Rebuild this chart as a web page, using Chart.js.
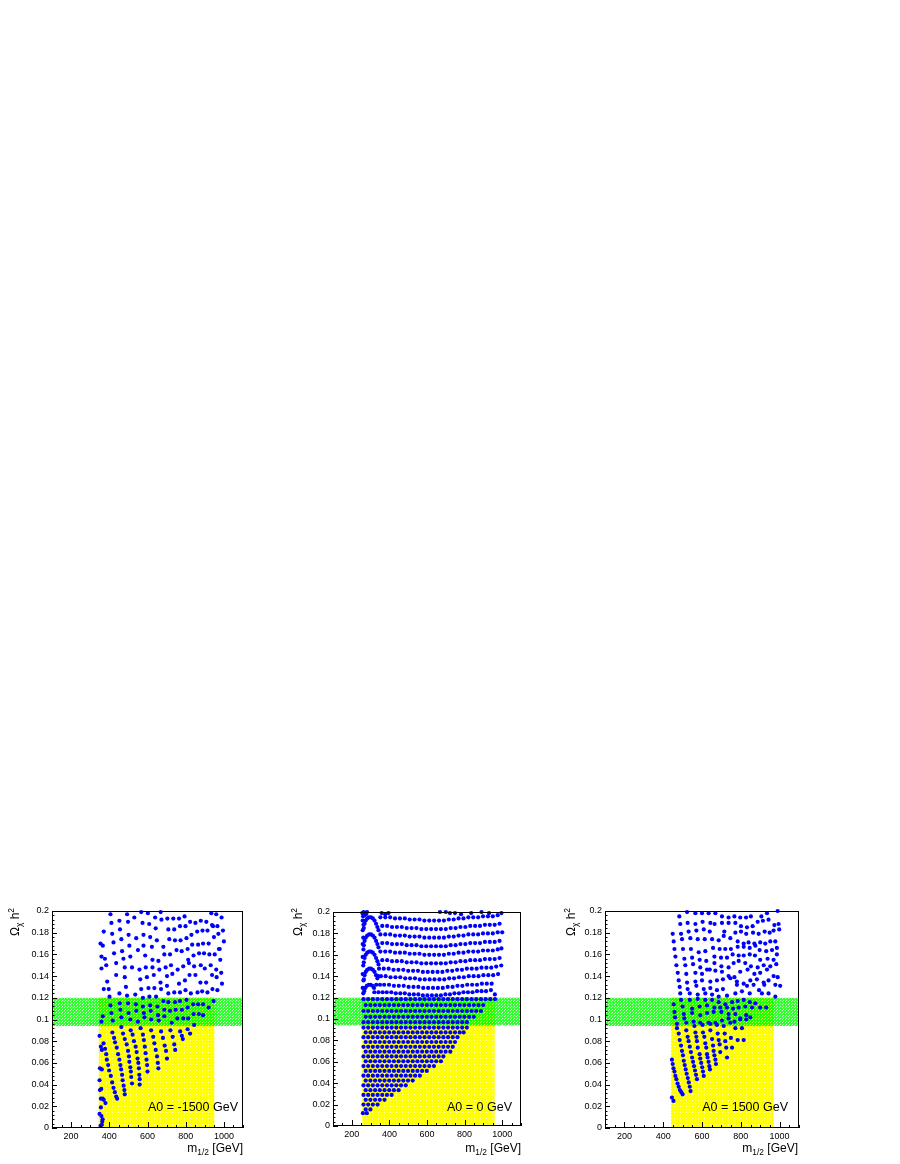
<!DOCTYPE html>
<html>
<head>
<meta charset="utf-8">
<script src="https://cdn.jsdelivr.net/npm/chart.js@4.4.1/dist/chart.umd.min.js"></script>
<style>
  body { margin: 0; width: 900px; height: 1164px; position: relative; background: #fff; overflow: hidden;
         font-family: "Liberation Sans", Arial, Helvetica, sans-serif; }
  .pad { position: absolute; top: 895px; height: 269px; }
  .pad canvas { display: block; }
  .lbl { position: absolute; font-size: 12px; line-height: 14px; white-space: nowrap; color: #000; }
  .lbl sub, .lbl sup { font-size: 70%; line-height: 0; }
  .ytitle { transform-origin: 0 0; transform: rotate(-90deg); width: 60px; text-align: right; top: 968px; }
  .xtitle { width: 120px; text-align: right; top: 1141px; }
  .note { font-size: 12.5px; width: 130px; text-align: right; top: 1100px; }
</style>
</head>
<body>

<div class="pad" style="left:0;width:290px"><canvas id="c1" width="290" height="269"></canvas></div>
<div class="pad" style="left:290px;width:290px"><canvas id="c2" width="290" height="269"></canvas></div>
<div class="pad" style="left:580px;width:320px"><canvas id="c3" width="320" height="269"></canvas></div>

<div class="lbl ytitle" style="left:8px">&Omega;<sub>&chi;</sub> h<sup>2</sup></div>
<div class="lbl ytitle" style="left:291px">&Omega;<sub>&chi;</sub> h<sup>2</sup></div>
<div class="lbl ytitle" style="left:564px">&Omega;<sub>&chi;</sub> h<sup>2</sup></div>

<div class="lbl xtitle" style="left:123px">m<sub>1/2</sub> [GeV]</div>
<div class="lbl xtitle" style="left:401px">m<sub>1/2</sub> [GeV]</div>
<div class="lbl xtitle" style="left:678px">m<sub>1/2</sub> [GeV]</div>

<div class="lbl note" style="left:108px">A0 = -1500 GeV</div>
<div class="lbl note" style="left:382px">A0 = 0 GeV</div>
<div class="lbl note" style="left:658px">A0 = 1500 GeV</div>

<script>
// axes
const xTicks = [200, 400, 600, 800, 1000];
const yTicks = [0, 0.02, 0.04, 0.06, 0.08, 0.1, 0.12, 0.14, 0.16, 0.18, 0.2];
const xRange = [100, 1100];
const yRange = [0, 0.2];

// bands
const greenBand = [0.094, 0.12];
const yellowTop = 0.12;
const yellow1 = [345, 950];
const yellow2 = [256, 960];
const yellow3 = [440, 970];

// ---- A0 = -1500 ----
const p1Upper = [
  [406,.197],[493,.197],[567,.199],[602,.198],[669,.199],[934,.198],[960,.197],[988,.194],
  [411,.189],[453,.191],[498,.190],[531,.194],[574,.189],[609,.188],[640,.194],[673,.192],[704,.193],[735,.193],[765,.193],[794,.195],[823,.190],[851,.189],[879,.191],[908,.190],[938,.187],[966,.186],
  [371,.181],[415,.179],[456,.183],[501,.178],[541,.175],[579,.178],[614,.176],[643,.184],[709,.183],[740,.183],[770,.186],[799,.186],[830,.178],[860,.181],[888,.182],[914,.182],[943,.186],[948,.176],[971,.179],[995,.182],
  [354,.170],[366,.168],[422,.171],[463,.174],[505,.168],[579,.168],[649,.173],[683,.167],[714,.174],[744,.173],[773,.173],[804,.175],[834,.169],[865,.169],[891,.170],[920,.170],[978,.165],[1000,.172],
  [359,.158],[377,.156],[425,.161],[467,.163],[474,.156],[510,.158],[550,.164],[588,.159],[623,.167],[626,.155],[657,.154],[688,.160],[718,.160],[752,.164],[779,.163],[810,.165],[813,.155],[841,.159],[870,.161],[896,.161],[924,.160],[952,.160],[974,.165],[981,.155],
  [359,.147],[384,.150],[436,.152],[481,.148],[519,.148],[558,.146],[591,.148],[626,.148],[662,.146],[695,.148],[723,.150],[758,.146],[787,.149],[817,.152],[844,.149],[879,.150],[900,.147],[931,.150],[960,.146],[986,.143],
  [389,.135],[436,.141],[481,.139],[562,.137],[597,.139],[633,.141],[668,.134],[702,.140],[730,.142],[765,.133],[796,.136],[820,.141],[851,.141],[877,.134],[907,.134],[938,.141],[962,.139],[990,.133]
];
const p1Middle = [
  [371,.128],[397,.128],[487,.130],[567,.128],[605,.129],[636,.129],[671,.128],[702,.131],[709,.124],[740,.125],[770,.125],[799,.127],[827,.124],[862,.125],[886,.126],[914,.125],[940,.128],[966,.127],
  [401,.121],[453,.124],[493,.122],[536,.123],[576,.120],[610,.121],[645,.121],
  [406,.113],[455,.115],[498,.115],[539,.114],[576,.112],[614,.113],[652,.112],[683,.117],[709,.116],[744,.116],[770,.117],[804,.118],[839,.114],[865,.114],[891,.114],[920,.111],[946,.117],
  [366,.103],[411,.106],[458,.109],[501,.106],[541,.108],[581,.106],[617,.108],[655,.104],[688,.109],[718,.108],[747,.109],[780,.109],[810,.111],[841,.105],[869,.105],[891,.104],
  [359,.098],[418,.099],[463,.102],[510,.100],[550,.098],[584,.102],[619,.100],[659,.099],[688,.103],[727,.097],[756,.101],[787,.101],[813,.101],[844,.095]
];
const p1Lower = [
  [349,.085],[356,.075],[361,.072],[351,.055],[361,.054],[349,.044],[358,.036],[351,.035],[356,.027],[365,.027],[371,.026],[380,.023],
  [356,.019],[349,.013],[359,.011],[365,.008],[363,.006],[361,.003],[354,.002],
  [370,.078],[378,.073],[384,.068],[387,.063],[394,.058],[399,.053],[408,.048],[415,.042],[422,.037],[429,.033],[436,.029],[441,.027],
  [416,.088],[425,.083],[430,.079],[439,.074],[446,.068],[453,.063],[458,.058],[462,.054],[467,.049],[470,.044],[475,.039],[479,.035],[481,.031],
  [463,.093],[472,.087],[481,.082],[491,.077],[498,.071],[503,.066],[505,.061],[510,.056],[513,.052],[515,.047],[519,.041],
  [512,.090],[522,.086],[529,.080],[538,.075],[543,.070],[548,.064],[552,.060],[555,.055],[557,.049],[559,.045],[559,.040],
  [564,.092],[576,.086],[581,.081],[586,.075],[590,.069],[595,.063],[598,.058],[600,.052],
  [619,.090],[630,.084],[636,.078],[643,.072],[650,.066],[654,.060],[657,.055],
  [671,.089],[681,.083],[690,.076],[697,.071],[702,.064],
  [720,.090],[732,.084],[740,.077],[745,.072],
  [771,.089],[780,.085],[785,.082],
  [810,.091],[823,.087]
];

// ---- A0 = 0 ----
const p2Top = [
  [359,.199],[378,.198],[395,.199],[669,.200],[700,.200],[722,.199],[749,.199],[781,.198],[835,.199],[890,.200],[930,.199],[996,.199]
];
const p2LeftEdge = [
  [256,.199],[260,.196],[258,.192],[263,.200],[267,.197],[271,.199],[276,.198],[281,.200],[262,.188],[258,.183],
  [261,.176],[258,.170],[262,.165],[258,.158],[261,.150],[258,.142],[262,.136],[258,.129],[261,.124]
];
const p2Arches = [
  [264,.185],[268,.189],[274,.192],[282,.194],[292,.195],[302,.195],[312,.194],[321,.192],[329,.189],[336,.186],[342,.183],
  [264,.169],[268,.173],[274,.176],[282,.178],[292,.179],[302,.179],[312,.178],[321,.176],[329,.173],[336,.170],[342,.167],
  [264,.153],[268,.157],[274,.160],[282,.162],[292,.163],[302,.163],[312,.162],[321,.160],[329,.157],[336,.154],[342,.151],
  [264,.137],[268,.141],[274,.144],[282,.146],[292,.147],[302,.147],[312,.146],[321,.144],[329,.141],[336,.138],
  [266,.126],[272,.129],[280,.131],[290,.132],[300,.132],[310,.131],[318,.129]
];
const p2Upper = [
  [352,.195],[378,.195],[404,.195],[430,.194],[456,.194],[482,.194],[508,.193],[534,.193],[560,.193],[586,.192],[612,.192],[638,.192],[664,.192],[690,.192],[716,.193],[742,.193],[768,.194],[794,.194],[820,.195],[846,.195],[872,.195],[898,.196],[924,.196],[950,.196],[976,.197],
  [362,.187],[388,.187],[414,.186],[440,.186],[466,.186],[492,.185],[518,.185],[544,.185],[570,.184],[596,.184],[622,.184],[648,.184],[674,.184],[700,.184],[726,.185],[752,.185],[778,.186],[804,.186],[830,.187],[856,.187],[882,.187],[908,.188],[934,.188],[960,.188],[986,.189],
  [352,.179],[378,.179],[404,.179],[430,.178],[456,.178],[482,.178],[508,.177],[534,.177],[560,.177],[586,.176],[612,.176],[638,.176],[664,.176],[690,.176],[716,.177],[742,.177],[768,.178],[794,.178],[820,.179],[846,.179],[872,.179],[898,.180],[924,.180],[950,.180],[976,.181],[1000,.181],
  [362,.171],[388,.171],[414,.170],[440,.170],[466,.170],[492,.169],[518,.169],[544,.169],[570,.168],[596,.168],[622,.168],[648,.168],[674,.168],[700,.168],[726,.169],[752,.169],[778,.170],[804,.170],[830,.171],[856,.171],[882,.171],[908,.172],[934,.172],[960,.172],[986,.173],
  [352,.163],[378,.163],[404,.163],[430,.162],[456,.162],[482,.162],[508,.161],[534,.161],[560,.161],[586,.160],[612,.160],[638,.160],[664,.160],[690,.160],[716,.161],[742,.161],[768,.162],[794,.162],[820,.163],[846,.163],[872,.163],[898,.164],[924,.164],[950,.164],[976,.165],[996,.166],
  [362,.155],[388,.155],[414,.154],[440,.154],[466,.154],[492,.153],[518,.153],[544,.153],[570,.152],[596,.152],[622,.152],[648,.152],[674,.152],[700,.152],[726,.153],[752,.153],[778,.154],[804,.154],[830,.155],[856,.155],[882,.155],[908,.156],[934,.156],[960,.156],[986,.157],
  [345,.147],[370,.147],[396,.147],[422,.146],[448,.146],[474,.146],[500,.145],[526,.145],[552,.145],[578,.144],[604,.144],[630,.144],[656,.144],[682,.144],[708,.145],[734,.145],[760,.146],[786,.146],[812,.147],[838,.147],[864,.147],[890,.148],[916,.148],[942,.148],[968,.149],[995,.150],
  [340,.140],[355,.140],[380,.140],[406,.139],[432,.139],[458,.139],[484,.138],[510,.138],[536,.138],[562,.137],[588,.137],[614,.137],[640,.137],[666,.137],[692,.137],[718,.138],[744,.138],[770,.139],[796,.139],[822,.140],[848,.140],[874,.140],[900,.141],[926,.141],[952,.141],[978,.142],
  [330,.132],[350,.132],[372,.132],[398,.132],[424,.131],[450,.131],[476,.131],[502,.130],[528,.130],[554,.130],[580,.129],[606,.129],[632,.129],[658,.129],[684,.129],[710,.130],[736,.130],[762,.131],[788,.131],[814,.132],[840,.132],[866,.132],[892,.133],[918,.133],[944,.133],
  [320,.125],[342,.125],[364,.125],[386,.125],[410,.125],[434,.124],[458,.124],[482,.124],[506,.123],[530,.123],[554,.123],[578,.122],[602,.122],[626,.122],[650,.122],[674,.122],[698,.123],[722,.123],[746,.124],[770,.124],[794,.125],[818,.125],[842,.125],[866,.126],[890,.126],[914,.126],[940,.127],[961,.123]
];
// rows of constant height: [omega, m1/2 values]
const p2BandRows = [
  [0.1185, [262,287,312,337,362,387,412,437,462,487,512,537,562,587,612,637,662,687,712,737,762,787,812,837,862,887,912,937,962]],
  [0.113,  [274,299,324,349,374,399,424,449,474,499,524,549,574,599,624,649,674,699,724,749,774,799,824,849,874,899]],
  [0.1075, [262,287,312,337,362,387,412,437,462,487,512,537,562,587,612,637,662,687,712,737,762,787,812,837,862,887]],
  [0.102,  [274,299,324,349,374,399,424,449,474,499,524,549,574,599,624,649,674,699,724,749,774,799,824,849]],
  [0.097,  [262,287,312,337,362,387,412,437,462,487,512,537,562,587,612,637,662,687,712,737,762,787,812]]
];
const p2LowRows = [
  [0.092,  [262,287,312,337,362,387,412,437,462,487,512,537,562,587,612,637,662,687,712,737,762,787,812]],
  [0.0875, [274,299,324,349,374,399,424,449,474,499,524,549,574,599,624,649,674,699,724,749,774,795]],
  [0.083,  [262,287,312,337,362,387,412,437,462,487,512,537,562,587,612,637,662,687,712,737,762]],
  [0.0785, [274,299,324,349,374,399,424,449,474,499,524,549,574,599,624,649,674,699,724,749]],
  [0.074,  [262,287,312,337,362,387,412,437,462,487,512,537,562,587,612,637,662,687,712,737]],
  [0.0695, [274,299,324,349,374,399,424,449,474,499,524,549,574,599,624,649,674,699,724]],
  [0.065,  [262,287,312,337,362,387,412,437,462,487,512,537,562,587,612,637,662,687]],
  [0.0605, [274,299,324,349,374,399,424,449,474,499,524,549,574,599,624,649,674]],
  [0.056,  [262,287,312,337,362,387,412,437,462,487,512,537,562,587,612,637]],
  [0.0515, [274,299,324,349,374,399,424,449,474,499,524,549,574,599]],
  [0.047,  [262,287,312,337,362,387,412,437,462,487,512,537,562]],
  [0.0425, [274,299,324,349,374,399,424,449,474,499,524]],
  [0.038,  [262,287,312,337,362,387,412,437,462,487]],
  [0.0335, [274,299,324,349,374,399,424,449]],
  [0.029,  [262,287,312,337,362,387,412]],
  [0.0245, [274,299,324,349,374]],
  [0.020,  [262,287,312,337]],
  [0.0155, [274,299]],
  [0.012,  [259,280]]
];

// ---- A0 = 1500 ----
const p3Upper = [
  [483,.195],[523,.199],[566,.198],[600,.198],[634,.198],[669,.198],[703,.195],[737,.194],[767,.195],[797,.194],[827,.194],[852,.195],[906,.195],[935,.198],[990,.200],
  [488,.188],[526,.189],[566,.188],[603,.190],[643,.189],[665,.188],[703,.189],[737,.189],[772,.189],[801,.186],[832,.185],[861,.186],[887,.190],[914,.191],[943,.192],[973,.187],[995,.188],
  [449,.179],[492,.179],[531,.181],[571,.182],[609,.183],[640,.181],[712,.177],[715,.181],[746,.175],[772,.180],[801,.181],[828,.179],[863,.180],[892,.179],[923,.181],[949,.180],[969,.182],[998,.183],
  [454,.172],[497,.174],[540,.175],[578,.174],[614,.174],[652,.174],[686,.173],[784,.172],[815,.170],[840,.171],[870,.170],[900,.171],[926,.170],[952,.172],[978,.172],
  [458,.165],[502,.165],[543,.165],[583,.162],[617,.163],[657,.166],[691,.165],[720,.165],[749,.165],[784,.167],[815,.167],[846,.166],[875,.168],[897,.164],[931,.163],[961,.164],[986,.166],
  [463,.158],[509,.156],[549,.157],[588,.155],[622,.154],[664,.158],[698,.157],[729,.157],[758,.160],[789,.159],[815,.159],[846,.160],[873,.159],[900,.155],[938,.156],[969,.155],[986,.160],
  [468,.150],[514,.150],[554,.151],[591,.148],[626,.146],[664,.152],[700,.149],[737,.148],[763,.152],[789,.154],[823,.152],[852,.149],[887,.148],[918,.150],[952,.149],[983,.151],
  [475,.143],[519,.142],[566,.143],[600,.142],[640,.146],[669,.145],[703,.144],[737,.140],[767,.139],[797,.144],[835,.146],[870,.142],[900,.143],[935,.146],[969,.140],[990,.139],
  [480,.136],[523,.134],[566,.135],[600,.136],[643,.135],[677,.136],[708,.137],[746,.138],[780,.135],[815,.133],[849,.136],[883,.137],[918,.134],[943,.136],[978,.132],[1003,.131]
];
const p3Middle = [
  [485,.130],[526,.128],[571,.131],[609,.128],[643,.129],[677,.127],[708,.128],[780,.132],[832,.131],[866,.132],[894,.127],[921,.132],[943,.124],[978,.121],[909,.124],[846,.124],[806,.126],[772,.124],
  [488,.124],[537,.124],[578,.123],[617,.124],[652,.123],[686,.121],[729,.122],
  [492,.118],[537,.118],[578,.119],[617,.118],[652,.118],[686,.116],[720,.114],[755,.116],[784,.117],[815,.118],[846,.116],[875,.115],[900,.111],[931,.111],
  [454,.114],[500,.112],[549,.110],[588,.112],[626,.113],[664,.111],[694,.111],[729,.111],[760,.110],[789,.111],[823,.112],[858,.111],
  [458,.107],[506,.105],[549,.106],[591,.104],[626,.106],[660,.107],[700,.107],[737,.105],[772,.105],[797,.101],[828,.104],
  [461,.102],[509,.101],[557,.098],[591,.097],[634,.097],[669,.097],[703,.099],[737,.101],[767,.098],[797,.100],[828,.100],[849,.102],
  [471,.096],[519,.097],[561,.094],[603,.095],[643,.096],[677,.095],[712,.094],[746,.097],[772,.092],[806,.092],
  [471,.092],[519,.090],[566,.088],[605,.088],[643,.090],[681,.087],[717,.087],[749,.083],[784,.081],[815,.081],
  [480,.087],[526,.084],[571,.084],[612,.084],[652,.082],[686,.081],[720,.080],[755,.074],
  [485,.081],[531,.080],[574,.080],[617,.078],[657,.076],[691,.077],[725,.074],
  [492,.076],[537,.075],[578,.074],[622,.074],[660,.071],[694,.070],[729,.065],
  [497,.071],[543,.070],[588,.068],[626,.068],[664,.067],
  [502,.067],[549,.065],[591,.064],[629,.065]
];
const p3Lower = [
  [445,.063],[449,.059],[453,.055],[458,.052],[463,.048],[468,.045],[474,.041],[480,.038],[486,.035],[494,.033],[500,.031],
  [445,.028],[453,.025],
  [506,.062],[511,.058],[516,.054],[521,.050],[527,.046],[532,.042],[537,.038],[541,.034],
  [554,.061],[559,.057],[564,.053],[569,.049],[574,.045],
  [596,.060],[601,.056],[605,.052],[609,.048],
  [634,.061],[638,.057],[641,.054],
  [669,.063],[672,.059]
];

const FONT = '"Liberation Sans", Arial, Helvetica, sans-serif';

// ROOT-like stippled fills
function makePattern(size, base, spots, spotColor) {
  const c = document.createElement('canvas');
  c.width = size; c.height = size;
  const g = c.getContext('2d');
  g.fillStyle = base; g.fillRect(0, 0, size, size);
  g.fillStyle = spotColor;
  spots.forEach(s => g.fillRect(s[0], s[1], 1, 1));
  return c;
}

function rowsToPoints(rows) {
  const out = [];
  rows.forEach(r => r[1].forEach(x => out.push([x, r[0]])));
  return out;
}

const rootStyle = {
  id: 'rootStyle',
  beforeDatasetsDraw(chart, args, opts) {
    const { ctx, chartArea: a, scales: { x, y } } = chart;
    const yellowFill = ctx.createPattern(makePattern(3, '#ffff00', [[1, 1]], '#ffffb0'), 'repeat');
    const greenFill = ctx.createPattern(makePattern(3, '#33ff33', [[1, 1], [2, 0]], '#c8ffc8'), 'repeat');
    const greenOnYellow = ctx.createPattern(makePattern(3, '#22ff00', [[1, 1], [2, 0]], '#c8ff40'), 'repeat');
    ctx.save();
    ctx.beginPath();
    ctx.rect(a.left, a.top, a.right - a.left, a.bottom - a.top);
    ctx.clip();
    const xl = x.getPixelForValue(opts.yellow[0]);
    const xr = x.getPixelForValue(opts.yellow[1]);
    const yt = y.getPixelForValue(yellowTop);
    const yb = y.getPixelForValue(0);
    ctx.fillStyle = yellowFill;
    ctx.fillRect(xl, yt, xr - xl, yb - yt);
    const g0 = y.getPixelForValue(greenBand[1]);
    const g1 = y.getPixelForValue(greenBand[0]);
    ctx.fillStyle = greenFill;
    ctx.fillRect(a.left, g0, a.right - a.left, g1 - g0);
    ctx.fillStyle = greenOnYellow;
    ctx.fillRect(xl, g0, xr - xl, g1 - g0);
    ctx.restore();
  },
  afterDatasetsDraw(chart) {
    const { ctx, chartArea: a, scales: { x, y } } = chart;
    ctx.save();
    ctx.strokeStyle = '#000';
    ctx.lineWidth = 1;
    ctx.beginPath();
    // y ticks: major every 0.02, minor every 0.004
    for (let i = 0; i <= 50; i++) {
      const py = Math.round(y.getPixelForValue(i * 0.004)) + 0.5;
      const len = (i % 5 === 0) ? 5 : 2.5;
      ctx.moveTo(a.left, py); ctx.lineTo(a.left + len, py);
    }
    // x ticks: major every 200, minor every 50
    for (let v = 100; v <= 1100; v += 50) {
      const px = Math.round(x.getPixelForValue(v)) + 0.5;
      const len = (v % 200 === 0) ? 6 : 3;
      ctx.moveTo(px, a.bottom); ctx.lineTo(px, a.bottom - len);
    }
    ctx.stroke();
    ctx.strokeRect(Math.round(a.left) + 0.5, Math.round(a.top) + 0.5,
                   Math.round(a.right - a.left) - 1, Math.round(a.bottom - a.top) - 1);
    ctx.restore();
  }
};

function makePanel(id, pts, yellow, box) {
  return new Chart(document.getElementById(id), {
    type: 'scatter',
    data: {
      datasets: [{
        data: pts.map(p => ({ x: p[0], y: p[1] })),
        pointRadius: 2.1,
        pointHoverRadius: 2.1,
        pointBackgroundColor: '#0000ff',
        pointBorderWidth: 0,
        clip: 3
      }]
    },
    options: {
      responsive: false,
      animation: false,
      events: [],
      layout: { padding: { top: box.top, right: box.right, left: 0, bottom: 0 } },
      plugins: { legend: { display: false }, tooltip: { enabled: false }, rootStyle: { yellow: yellow } },
      scales: {
        x: {
          type: 'linear', min: xRange[0], max: xRange[1],
          grid: { display: false, drawTicks: false }, border: { display: false },
          afterBuildTicks: s => { s.ticks = xTicks.map(v => ({ value: v })); },
          afterFit: s => { s.height = box.xh; },
          ticks: { color: '#000', font: { family: FONT, size: 9 }, padding: 3, maxRotation: 0, autoSkip: false,
                   callback: v => String(v) }
        },
        y: {
          type: 'linear', min: yRange[0], max: yRange[1],
          grid: { display: false, drawTicks: false }, border: { display: false },
          afterBuildTicks: s => { s.ticks = yTicks.map(v => ({ value: v })); },
          afterFit: s => { s.width = box.yw; },
          ticks: { color: '#000', font: { family: FONT, size: 9 }, padding: 3, autoSkip: false,
                   callback: v => String(+v.toFixed(2)) }
        }
      }
    },
    plugins: [rootStyle]
  });
}

makePanel('c1', p1Upper.concat(p1Middle, p1Lower), yellow1, { yw: 52, right: 47, top: 16, xh: 36 });
makePanel('c2', p2Top.concat(p2LeftEdge, p2Arches, p2Upper, rowsToPoints(p2BandRows), rowsToPoints(p2LowRows)),
          yellow2, { yw: 43, right: 59, top: 17, xh: 38 });
makePanel('c3', p3Upper.concat(p3Middle, p3Lower), yellow3, { yw: 25, right: 101, top: 16, xh: 36 });
</script>
</body>
</html>
